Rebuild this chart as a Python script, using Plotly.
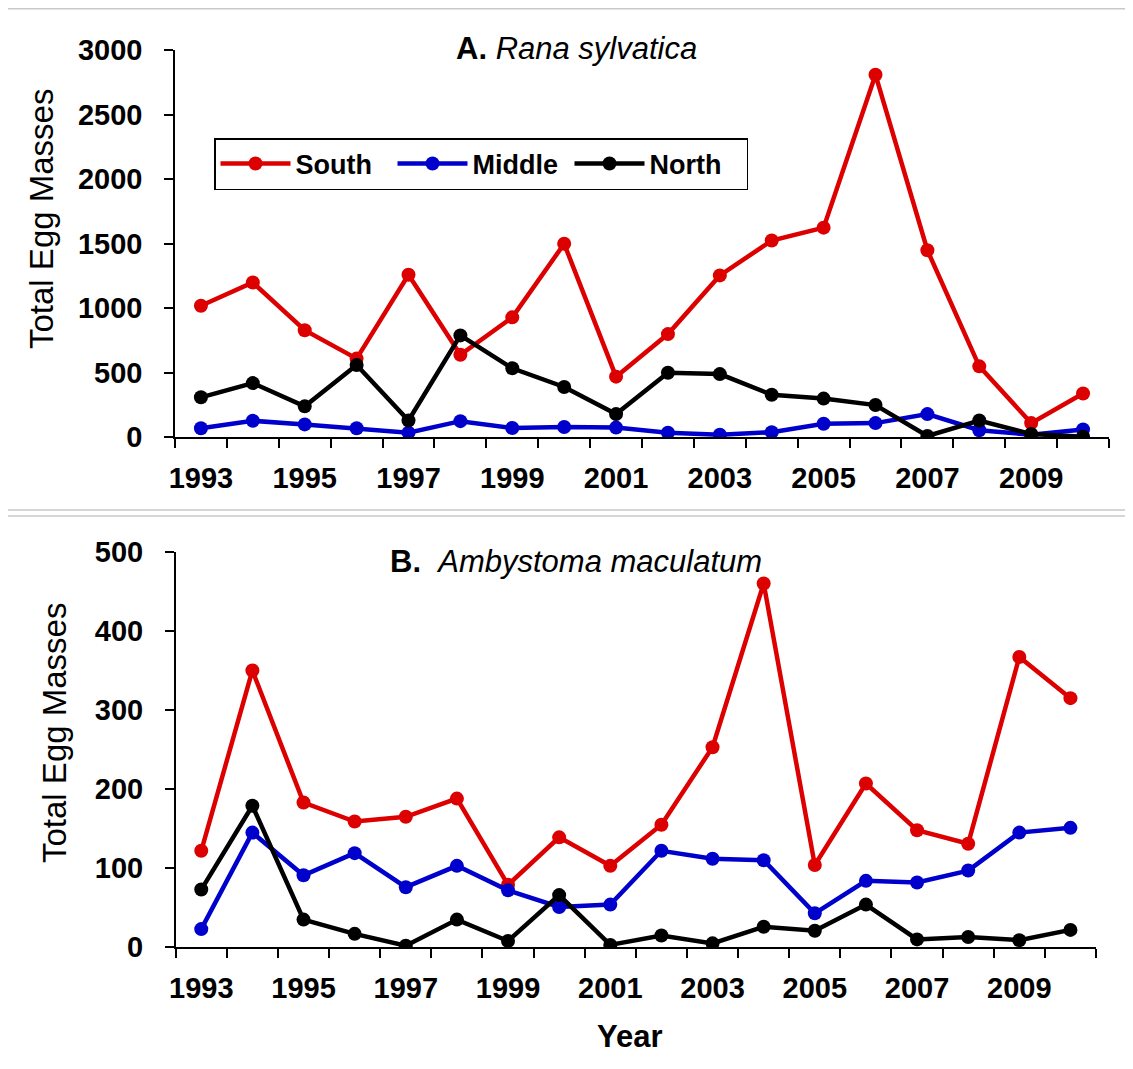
import plotly.graph_objects as go

# Years shared by both panels
YEARS = [str(y) for y in range(1993, 2011)]
YEAR_LABELS = [y if int(y) % 2 == 1 else '' for y in YEARS]

# A. Rana sylvatica - total egg masses
RANA_SOUTH = [1020, 1200, 830, 610, 1260, 640, 930, 1500, 470, 800,
              1255, 1525, 1625, 2810, 1450, 550, 110, 340]
RANA_MIDDLE = [70, 128, 100, 70, 36, 125, 72, 80, 75, 35,
               20, 40, 105, 110, 180, 55, 20, 60]
RANA_NORTH = [310, 420, 240, 560, 130, 790, 535, 390, 180, 500,
              490, 330, 300, 250, 10, 130, 25, 5]

# B. Ambystoma maculatum - total egg masses
AMBY_SOUTH = [122, 350, 183, 159, 165, 188, 79, 139, 103, 155,
              253, 460, 104, 207, 148, 131, 367, 315]
AMBY_MIDDLE = [23, 145, 91, 119, 76, 103, 72, 51, 54, 122,
               112, 110, 43, 84, 82, 97, 145, 151]
AMBY_NORTH = [73, 179, 35, 17, 2, 35, 8, 66, 3, 15,
              5, 26, 21, 54, 10, 13, 9, 22]

SERIES_NAMES = ['South', 'Middle', 'North']
SERIES_COLOURS = ['#dd0000', '#0000cc', '#000000']

FONT = "Arial, Liberation Sans, sans-serif"
W, H = 1133, 1069
PAGE_OFFSET = 8  # body margin of the html page


def px_x(x):
    return (x - PAGE_OFFSET) / W


def px_y(y):
    return 1 - (y - PAGE_OFFSET) / H


fig = go.Figure()

for name, colour, vals in zip(SERIES_NAMES, SERIES_COLOURS,
                              [RANA_SOUTH, RANA_MIDDLE, RANA_NORTH]):
    fig.add_trace(go.Scatter(
        x=YEARS, y=vals, name=name, mode='lines+markers',
        line=dict(color=colour, width=4.5),
        marker=dict(color=colour, size=14),
        xaxis='x', yaxis='y'
    ))

for name, colour, vals in zip(SERIES_NAMES, SERIES_COLOURS,
                              [AMBY_SOUTH, AMBY_MIDDLE, AMBY_NORTH]):
    fig.add_trace(go.Scatter(
        x=YEARS, y=vals, name=name, mode='lines+markers',
        line=dict(color=colour, width=4.5),
        marker=dict(color=colour, size=14),
        xaxis='x2', yaxis='y2', showlegend=False
    ))

tick_font = dict(family=FONT, size=29, color='black', weight='bold')

xaxis_common = dict(
    type='category', tickmode='array', tickvals=YEARS, ticktext=YEAR_LABELS,
    tickson='boundaries', ticks='outside', ticklen=9, tickwidth=1.5,
    tickcolor='black', showline=True, linecolor='black', linewidth=1.5,
    showgrid=False, zeroline=False, range=[-0.5, 17.5], tickangle=0,
    tickfont=tick_font, ticklabelstandoff=14, automargin=False
)
yaxis_common = dict(
    ticks='outside', ticklen=9, tickwidth=1.5, tickcolor='black',
    showline=True, linecolor='black', linewidth=1.5, showgrid=False,
    zeroline=False, tickfont=tick_font, ticklabelstandoff=16,
    automargin=False
)

fig.update_layout(
    width=W, height=H,
    margin=dict(l=0, r=0, t=0, b=0),
    paper_bgcolor='white', plot_bgcolor='white',
    font=dict(family=FONT, color='black'),
    xaxis=dict(domain=[px_x(175), px_x(1109)], anchor='y', **xaxis_common),
    yaxis=dict(domain=[px_y(437.3), px_y(50.3)], anchor='x', range=[0, 3000],
               tickvals=[0, 500, 1000, 1500, 2000, 2500, 3000], **yaxis_common),
    xaxis2=dict(domain=[px_x(175.7), px_x(1096)], anchor='y2', **xaxis_common),
    yaxis2=dict(domain=[px_y(947.3), px_y(551.8)], anchor='x2', range=[0, 500],
                tickvals=[0, 100, 200, 300, 400, 500], **yaxis_common),
    legend=dict(
        orientation='h', x=px_x(214), y=px_y(138), xanchor='left', yanchor='top',
        bordercolor='black', borderwidth=1.5, bgcolor='white',
        font=dict(family=FONT, size=27, color='black', weight='bold'),
        entrywidth=92, itemwidth=70, tracegroupgap=0
    ),
    showlegend=True
)

annotations = [
    dict(text='<b>A.</b> <i>Rana sylvatica</i>', x=px_x(576), y=px_y(48)),
    dict(text='<b>B.</b>&nbsp; <i>Ambystoma maculatum</i>', x=px_x(576), y=px_y(561)),
]
for a in annotations:
    fig.add_annotation(xref='paper', yref='paper', xanchor='center', yanchor='middle',
                       showarrow=False, font=dict(family=FONT, size=31, color='black'), **a)

for xc, yc in [(42, 219), (54, 733)]:
    fig.add_annotation(text='Total Egg Masses', xref='paper', yref='paper',
                       x=px_x(xc), y=px_y(yc), textangle=-90, showarrow=False,
                       xanchor='center', yanchor='middle',
                       font=dict(family=FONT, size=33, color='black'))

fig.add_annotation(text='<b>Year</b>', xref='paper', yref='paper',
                   x=px_x(630), y=px_y(1036), showarrow=False,
                   xanchor='center', yanchor='middle',
                   font=dict(family=FONT, size=31, color='black'))

# thin grey page separators
for ypos in [8.8, 510, 516]:
    fig.add_shape(type='line', xref='paper', yref='paper',
                  x0=px_x(8), x1=1, y0=px_y(ypos), y1=px_y(ypos),
                  line=dict(color='#c8c8c8', width=1.5))

fig.write_html("out.html")
